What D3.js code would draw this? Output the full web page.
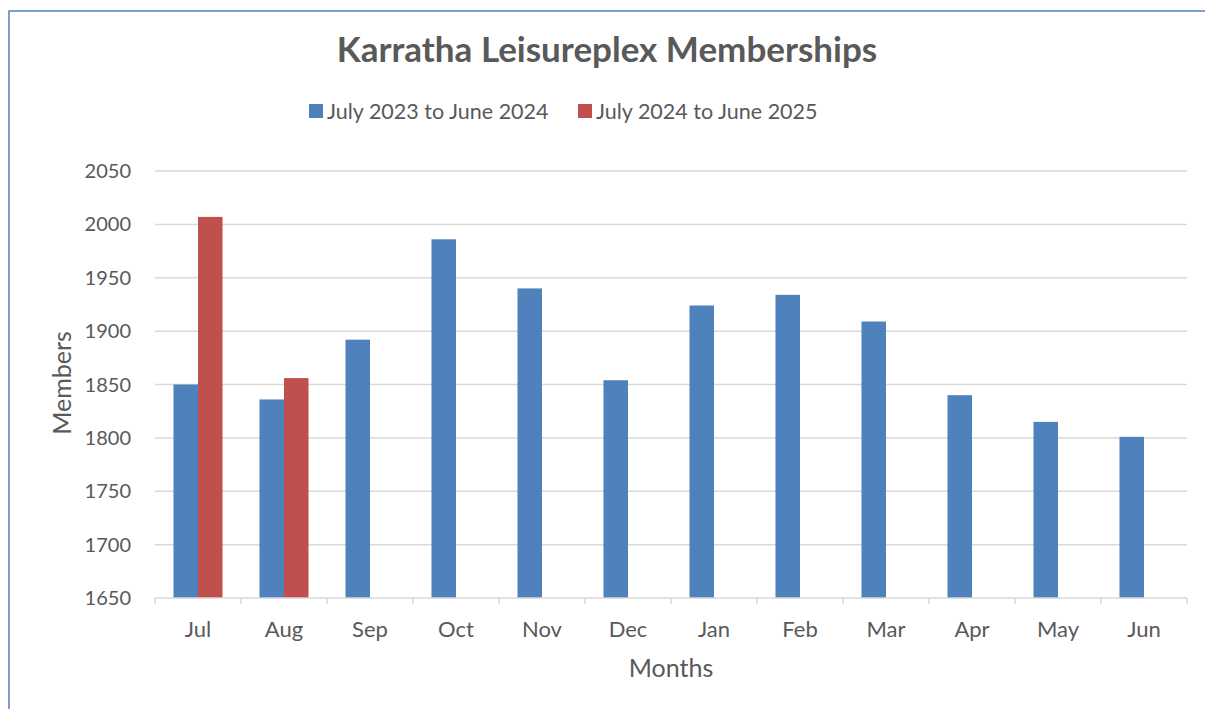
<!DOCTYPE html>
<html>
<head>
<meta charset="utf-8">
<script src="https://cdn.jsdelivr.net/npm/d3@7"></script>
<style>
  body { margin: 0; background: #fff; }
  text { font-family: Lato, "Open Sans", sans-serif; fill: #595959; }
</style>
</head>
<body>
<svg width="1205" height="709"></svg>
<script>
const months = ['Jul', 'Aug', 'Sep', 'Oct', 'Nov', 'Dec', 'Jan', 'Feb', 'Mar', 'Apr', 'May', 'Jun'];
const seriesNames = ['July 2023 to June 2024', 'July 2024 to June 2025'];
const members2324 = [1850, 1836, 1892, 1986, 1940, 1854, 1924, 1934, 1909, 1840, 1815, 1801];
const members2425 = [2007, 1856, null, null, null, null, null, null, null, null, null, null];
const yTicks = [1650, 1700, 1750, 1800, 1850, 1900, 1950, 2000, 2050];
const colors = ['#4f81bd', '#c0504d'];

const svg = d3.select('svg');

// chart frame (runs off the right and bottom of the picture)
svg.append('rect')
    .attr('x', 9).attr('y', 11)
    .attr('width', 1220).attr('height', 720)
    .attr('fill', 'none')
    .attr('stroke', '#4f81bd')
    .attr('stroke-width', 1.5);

const margin = { left: 155, right: 1187, top: 171, bottom: 598 };

const x0 = d3.scaleBand()
    .domain(months)
    .range([margin.left, margin.right])
    .paddingInner(0.43)
    .paddingOuter(0.215);

const x1 = d3.scaleBand()
    .domain([0, 1])
    .range([0, x0.bandwidth()]);

const y = d3.scaleLinear()
    .domain([1650, 2050])
    .range([margin.bottom, margin.top]);

// gridlines
svg.append('g')
    .selectAll('line')
    .data(yTicks.slice(1))
    .join('line')
    .attr('x1', margin.left).attr('x2', margin.right)
    .attr('y1', d => y(d)).attr('y2', d => y(d))
    .attr('stroke', '#d9d9d9')
    .attr('stroke-width', 1.5);

// y labels
svg.append('g')
    .selectAll('text')
    .data(yTicks)
    .join('text')
    .attr('x', 131)
    .attr('y', d => y(d))
    .attr('dy', '0.35em')
    .attr('text-anchor', 'end')
    .attr('font-size', 20)
    .text(d => d);

// bars
const rows = months.map((m, i) => ({ month: m, values: [members2324[i], members2425[i]] }));

const groups = svg.append('g')
    .selectAll('g')
    .data(rows)
    .join('g')
    .attr('transform', d => `translate(${x0(d.month)},0)`);

groups.selectAll('rect')
    .data(d => d.values.map((v, k) => ({ k, v })).filter(e => e.v != null))
    .join('rect')
    .attr('x', d => x1(d.k))
    .attr('width', x1.bandwidth())
    .attr('y', d => y(d.v))
    .attr('height', d => y(1650) - y(d.v))
    .attr('fill', d => colors[d.k]);

// x axis
const xAxis = svg.append('g');
xAxis.append('line')
    .attr('x1', margin.left).attr('x2', margin.right)
    .attr('y1', margin.bottom).attr('y2', margin.bottom)
    .attr('stroke', '#d9d9d9')
    .attr('stroke-width', 1.5);

const step = x0.step();
xAxis.selectAll('.tick')
    .data(d3.range(months.length + 1))
    .join('line')
    .attr('class', 'tick')
    .attr('x1', i => margin.left + i * step).attr('x2', i => margin.left + i * step)
    .attr('y1', margin.bottom).attr('y2', margin.bottom + 6)
    .attr('stroke', '#d9d9d9')
    .attr('stroke-width', 1.5);

xAxis.selectAll('.lbl')
    .data(months)
    .join('text')
    .attr('class', 'lbl')
    .attr('x', d => x0(d) + x0.bandwidth() / 2)
    .attr('y', 629)
    .attr('dy', '0.35em')
    .attr('text-anchor', 'middle')
    .attr('font-size', 22)
    .text(d => d);

// axis titles
svg.append('text')
    .attr('x', 671).attr('y', 668)
    .attr('dy', '0.35em')
    .attr('text-anchor', 'middle')
    .attr('font-size', 25)
    .text('Months');

svg.append('text')
    .attr('transform', 'translate(62,383) rotate(-90)')
    .attr('dy', '0.35em')
    .attr('text-anchor', 'middle')
    .attr('font-size', 25)
    .text('Members');

// title
svg.append('text')
    .attr('x', 607).attr('y', 50)
    .attr('dy', '0.35em')
    .attr('text-anchor', 'middle')
    .attr('font-size', 35)
    .attr('font-weight', 'bold')
    .text('Karratha Leisureplex Memberships');

// legend
const legendX = [309, 578];
const legend = svg.append('g')
    .selectAll('g')
    .data(seriesNames)
    .join('g')
    .attr('transform', (d, i) => `translate(${legendX[i]},111)`);

legend.append('rect')
    .attr('x', 0).attr('y', -7)
    .attr('width', 14).attr('height', 14)
    .attr('fill', (d, i) => colors[i]);

legend.append('text')
    .attr('x', 18)
    .attr('dy', '0.35em')
    .attr('font-size', 21.5)
    .text(d => d);
</script>
</body>
</html>
